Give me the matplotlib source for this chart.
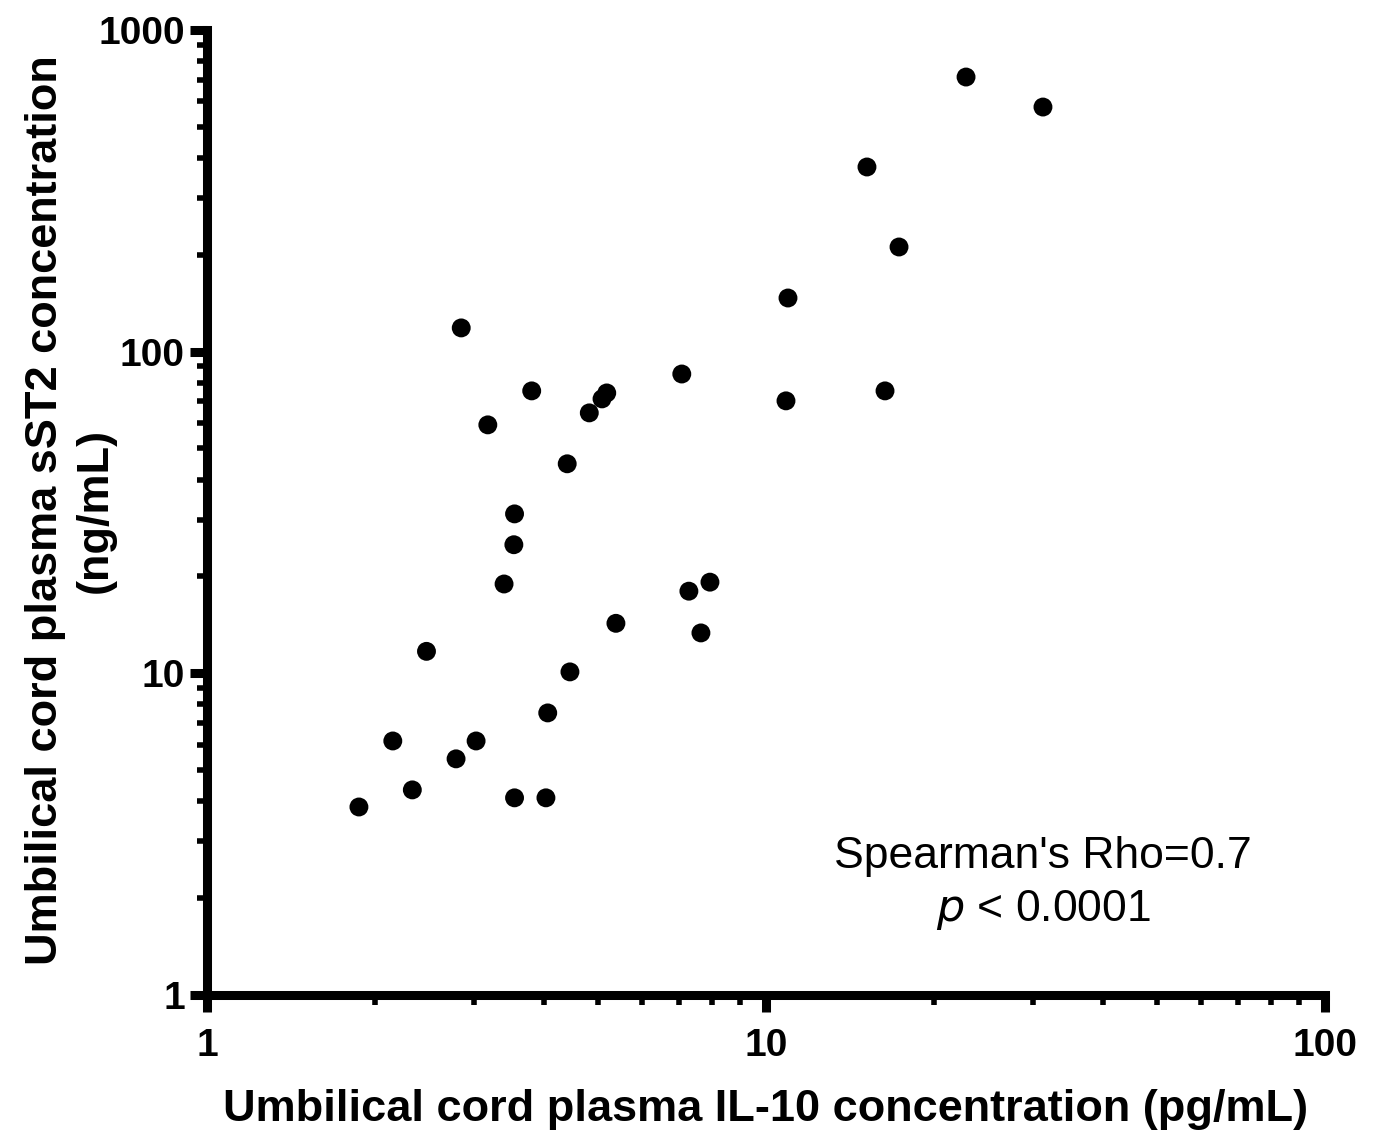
import matplotlib
matplotlib.use("Agg")
import matplotlib.pyplot as plt
from matplotlib.ticker import LogLocator, NullFormatter, FixedLocator, FixedFormatter

plt.rcParams['font.family'] = ['Liberation Sans', 'DejaVu Sans']

il10 = [1.87, 2.15, 2.33, 2.47, 2.79, 2.85, 3.03, 3.18, 3.40, 3.54, 3.55, 3.55,
        3.81, 4.04, 4.07, 4.41, 4.46, 4.83, 5.09, 5.19, 5.39, 7.07, 7.28, 7.65,
        7.94, 10.86, 10.95, 15.16, 16.33, 17.3, 22.8, 31.3]
sst2 = [3.84, 6.16, 4.34, 11.7, 5.42, 118.5, 6.16, 59.2, 18.95, 25.1, 31.3, 4.10,
        75.5, 4.10, 7.53, 44.8, 10.1, 64.5, 71.3, 74.4, 14.3, 85.2, 18.0, 13.35,
        19.2, 70.3, 146.8, 375, 75.5, 211.5, 714, 576]

xticks = [1, 10, 100]
xticklabels = ['1', '10', '100']
yticks = [1, 10, 100, 1000]
yticklabels = ['1', '10', '100', '1000']

fig = plt.figure(figsize=(13.78, 11.31), dpi=100)
ax = fig.add_axes([0.1502, 0.1203, 0.8113, 0.8532])
ax.scatter(il10, sst2, s=185, color='black', edgecolors='none', zorder=3, clip_on=False)
ax.set_xscale('log')
ax.set_yscale('log')
ax.set_xlim(1, 100)
ax.set_ylim(1, 1000)

for s in ['top', 'right']:
    ax.spines[s].set_visible(False)
for s in ['left', 'bottom']:
    ax.spines[s].set_linewidth(6.5)
    ax.spines[s].set_capstyle('projecting')

ax.xaxis.set_major_locator(FixedLocator(xticks))
ax.xaxis.set_major_formatter(FixedFormatter(xticklabels))
ax.yaxis.set_major_locator(FixedLocator(yticks))
ax.yaxis.set_major_formatter(FixedFormatter(yticklabels))
ax.xaxis.set_minor_locator(LogLocator(base=10, subs=range(2, 10)))
ax.yaxis.set_minor_locator(LogLocator(base=10, subs=range(2, 10)))
ax.xaxis.set_minor_formatter(NullFormatter())
ax.yaxis.set_minor_formatter(NullFormatter())

ax.tick_params(which='major', length=12, width=6.5, labelsize=28)
ax.tick_params(axis='x', which='major', pad=12)
ax.tick_params(axis='y', which='major', pad=4)
ax.tick_params(which='minor', length=7, width=4)
for lab in ax.get_xticklabels() + ax.get_yticklabels():
    lab.set_fontweight('bold')

ax.set_xlabel('Umbilical cord plasma IL-10 concentration (pg/mL)', fontsize=32.5,
              fontweight='bold', labelpad=18)
ax.set_ylabel('Umbilical cord plasma sST2 concentration\n(ng/mL)', fontsize=32.5,
              fontweight='bold', linespacing=1.25)
ax.yaxis.set_label_coords(-0.082, 0.5026)

ax.text(0.748, 0.143, "Spearman's Rho=0.7", transform=ax.transAxes, ha='center',
        va='center', fontsize=32)
ax.text(0.748, 0.088, r"$\it{p}$ < 0.0001", transform=ax.transAxes, ha='center',
        va='center', fontsize=32)

fig.savefig('out.png', dpi=100)
